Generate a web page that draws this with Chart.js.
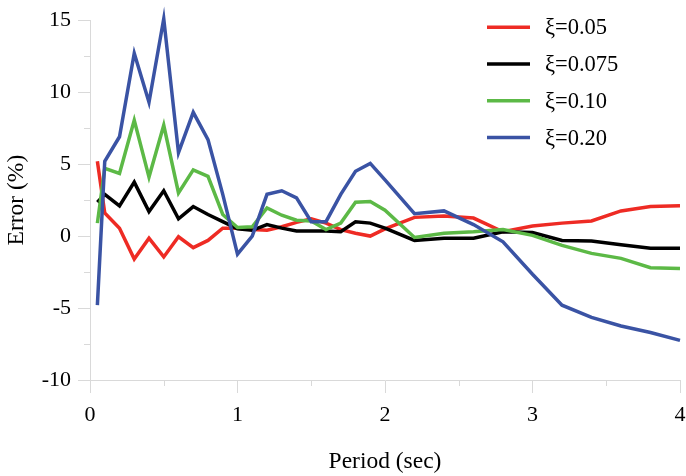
<!DOCTYPE html>
<html>
<head>
<meta charset="utf-8">
<title>Error vs Period</title>
<script src="https://cdn.jsdelivr.net/npm/chart.js@4/dist/chart.umd.min.js"></script>
<style>
  html, body { margin: 0; padding: 0; background: #fff; }
  #wrap { width: 686px; height: 476px; }
</style>
</head>
<body>
<div id="wrap"><canvas id="errorChart" width="686" height="476"></canvas></div>
<script>
// periods (sec) shared by every series
var periods = [0.05, 0.1, 0.2, 0.3, 0.4, 0.5, 0.6, 0.7, 0.8, 0.9, 1.0,
               1.1, 1.2, 1.3, 1.4, 1.5, 1.6, 1.7, 1.8, 1.9, 2.0,
               2.2, 2.4, 2.6, 2.8, 3.0, 3.2, 3.4, 3.6, 3.8, 4.0];

// error (%) per damping ratio
var err005 = [5.2, 1.6, 0.55, -1.6, -0.15, -1.45, -0.05, -0.8, -0.3, 0.55, 0.55,
              0.45, 0.4, 0.65, 0.95, 1.2, 0.9, 0.45, 0.2, 0.0, 0.5,
              1.3, 1.4, 1.25, 0.3, 0.7, 0.9, 1.05, 1.75, 2.05, 2.1];
var err0075 = [2.35, 2.9, 2.1, 3.75, 1.7, 3.15, 1.2, 2.05, 1.5, 1.0, 0.5,
               0.4, 0.8, 0.55, 0.35, 0.35, 0.35, 0.3, 1.0, 0.9, 0.55,
               -0.3, -0.15, -0.15, 0.3, 0.25, -0.3, -0.35, -0.6, -0.85, -0.85];
var err010 = [0.9, 4.7, 4.35, 8.05, 4.1, 7.7, 3.0, 4.6, 4.15, 1.5, 0.6,
              0.65, 1.95, 1.45, 1.1, 1.05, 0.45, 0.9, 2.35, 2.4, 1.8,
              -0.1, 0.2, 0.3, 0.45, 0.05, -0.65, -1.2, -1.55, -2.2, -2.25];
var err020 = [-4.8, 5.2, 6.9, 12.7, 9.3, 15.1, 5.8, 8.6, 6.7, 2.9, -1.25,
              0.0, 2.9, 3.15, 2.65, 1.0, 1.0, 2.9, 4.5, 5.05, 3.9,
              1.55, 1.75, 0.8, -0.4, -2.65, -4.8, -5.65, -6.25, -6.7, -7.25];

var seriesLabels = ["\u03be=0.05", "\u03be=0.075", "\u03be=0.10", "\u03be=0.20"];
var seriesColors = ["#ee2b24", "#000000", "#5cb946", "#3a53a4"];

var serif = "'Liberation Serif', 'Times New Roman', serif";
var axisGray = "#d9d9d9";

function toPoints(ys) {
    return periods.map(function (p, i) { return { x: p, y: ys[i] }; });
}

// minor tick marks (half steps) drawn shorter than the major ones
var minorTicks = {
    id: "minorTicks",
    afterDraw: function (chart) {
        var ctx = chart.ctx, xs = chart.scales.x, ys = chart.scales.y;
        var area = chart.chartArea;
        ctx.save();
        ctx.strokeStyle = axisGray;
        ctx.lineWidth = 1;
        [0.5, 1.5, 2.5, 3.5].forEach(function (v) {
            var px = Math.round(xs.getPixelForValue(v)) + 0.5;
            ctx.beginPath();
            ctx.moveTo(px, area.bottom);
            ctx.lineTo(px, area.bottom + 6);
            ctx.stroke();
        });
        [-7.5, -2.5, 2.5, 7.5, 12.5].forEach(function (v) {
            var py = Math.round(ys.getPixelForValue(v)) + 0.5;
            ctx.beginPath();
            ctx.moveTo(area.left - 6, py);
            ctx.lineTo(area.left, py);
            ctx.stroke();
        });
        ctx.restore();
    }
};

// legend in the upper right of the plot
var boxLegend = {
    id: "boxLegend",
    afterDraw: function (chart) {
        var ctx = chart.ctx, area = chart.chartArea;
        var x0 = area.right - 193, top = area.top + 7, rowH = 36.8;
        ctx.save();
        chart.data.datasets.forEach(function (ds, i) {
            var y = top + i * rowH;
            ctx.strokeStyle = ds.borderColor;
            ctx.lineWidth = 3.5;
            ctx.beginPath();
            ctx.moveTo(x0, y);
            ctx.lineTo(x0 + 43, y);
            ctx.stroke();
            ctx.fillStyle = "#000";
            ctx.font = "22.5px " + serif;
            ctx.textBaseline = "middle";
            ctx.textAlign = "left";
            ctx.fillText(ds.label, x0 + 58, y + 1);
        });
        ctx.restore();
    }
};

var datasets = [err005, err0075, err010, err020].map(function (ys, i) {
    return {
        label: seriesLabels[i],
        data: toPoints(ys),
        borderColor: seriesColors[i],
        backgroundColor: seriesColors[i],
        borderWidth: 3.5,
        pointRadius: 0,
        tension: 0,
        fill: false,
        clip: false,
        order: 3 - i
    };
});

var ctx = document.getElementById("errorChart").getContext("2d");
new Chart(ctx, {
    type: "line",
    data: { datasets: datasets },
    options: {
        responsive: false,
        animation: false,
        layout: { padding: { top: 19, right: 6, bottom: 0, left: 0 } },
        plugins: {
            legend: { display: false },
            tooltip: { enabled: false }
        },
        scales: {
            x: {
                type: "linear",
                min: 0,
                max: 4,
                ticks: { stepSize: 1, padding: 9, color: "#000", font: { family: serif, size: 22 } },
                grid: { drawOnChartArea: false, tickLength: 13, tickColor: axisGray },
                border: { color: axisGray },
                title: { display: true, text: "Period (sec)", color: "#000", font: { family: serif, size: 23.5 }, padding: { top: 0, bottom: 0 } },
                afterFit: function (scale) {
                    scale.height = 96;
                    scale.paddingRight = 0;
                }
            },
            y: {
                min: -10,
                max: 15,
                ticks: { stepSize: 5, padding: 7, color: "#000", font: { family: serif, size: 22 } },
                grid: { drawOnChartArea: false, tickLength: 12, tickColor: axisGray },
                border: { color: axisGray },
                title: { display: true, text: "Error (%)", color: "#000", font: { family: serif, size: 23.5 }, padding: { top: 2.5, bottom: 0 } },
                afterFit: function (scale) { scale.width = 90; }
            }
        }
    },
    plugins: [minorTicks, boxLegend]
});
</script>
</body>
</html>
